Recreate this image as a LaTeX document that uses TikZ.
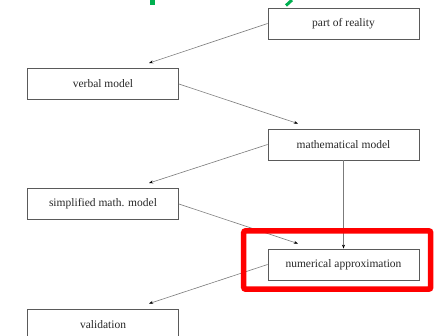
\documentclass[tikz,border=0pt]{standalone}
\usepackage{fontspec}
\setmainfont{Liberation Serif}
\usepackage{xcolor}
\usetikzlibrary{arrows.meta}

\definecolor{titlegreen}{RGB}{0,176,80}
\definecolor{boxgray}{RGB}{90,90,90}

\tikzset{
  stage/.style={draw=boxgray, line width=0.8pt, minimum width=151pt, minimum height=31pt,
    inner sep=0pt, text=black!85, font=\fontsize{11.5}{13}\selectfont},
  flow/.style={draw=boxgray!80, line width=0.6pt, -{Stealth[length=4pt,width=3pt,black]}}
}

\begin{document}
\begin{tikzpicture}[x=1pt,y=1pt]

\useasboundingbox (0,0) rectangle (435,336);

% ===== Title (cut off) =====

\fill[titlegreen] (149.5,336) rectangle (154.5,331);
\draw[titlegreen, line width=3pt] (292,336) -- (286,330.5);

% ===== Stages =====

\node[stage] (reality) at (343.5,312.5) {part of reality};
\node[stage] (verbal) at (103,252) {verbal model};
\node[stage] (math) at (343.5,191.5) {mathematical model};
\node[stage] (simple) at (103,132) {simplified math. model};
\node[stage] (numeric) at (343.5,71.5) {numerical approximation};
\node[stage] (valid) at (103,11.5) {validation};

% ===== Flow =====

\draw[flow] (reality.west) -- ([xshift=46pt,yshift=5pt]verbal.north);
\draw[flow] (verbal.east) -- ([xshift=-45.5pt,yshift=5pt]math.north);
\draw[flow] (math.west) -- ([xshift=46pt,yshift=5pt]simple.north);
\draw[flow] (simple.east) -- ([xshift=-45.5pt,yshift=5pt]numeric.north);
\draw[flow] (math.south) -- (numeric.north);
\draw[flow] (numeric.west) -- ([xshift=46pt,yshift=5pt]valid.north);

% ===== Highlight =====

\draw[red, line width=5.5pt, rounded corners=2pt] (243.7,105.2) rectangle (430.7,46.8);

\end{tikzpicture}
\end{document}
